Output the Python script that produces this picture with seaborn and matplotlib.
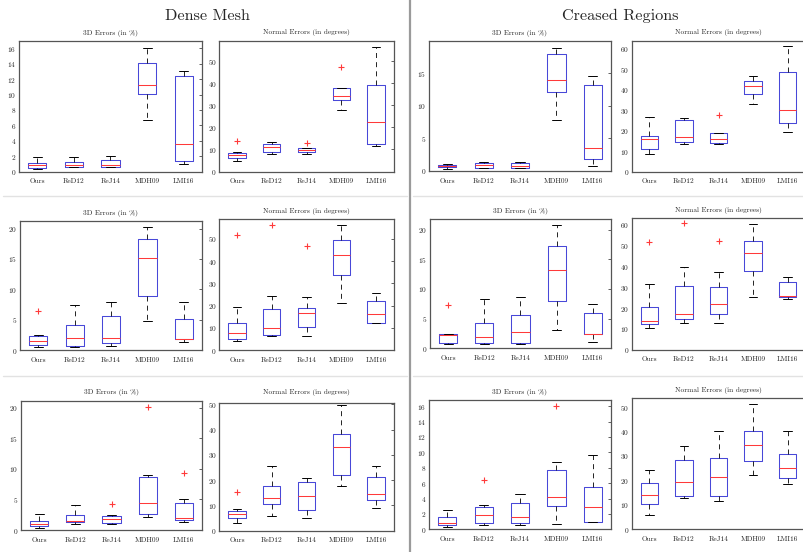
import numpy as np
import pandas as pd
import matplotlib
matplotlib.use("Agg")
import matplotlib.pyplot as plt
from matplotlib.lines import Line2D
import seaborn as sns

methods = ["Ours", "ReD12", "ReJ14", "MDH09", "LMI16"]

# each row: low whisker, q1, median, q3, high whisker  (one row per method)
dense_3d_1 = [[0.30, 0.48, 0.87, 1.13, 1.90], [0.55, 0.61, 0.87, 1.22, 1.91],
              [0.55, 0.60, 0.78, 1.48, 2.04], [6.74, 10.10, 11.30, 14.04, 16.00],
              [1.00, 1.39, 3.60, 12.43, 13.10]]
dense_3d_1_out = [[], [], [], [], []]
dense_nrm_1 = [[4.8, 6.0, 7.5, 8.3, 8.6], [8.1, 8.7, 11.1, 12.65, 13.2],
               [8.0, 9.0, 9.8, 10.5, 10.7], [27.9, 32.4, 34.2, 37.6, 37.6],
               [11.6, 12.3, 22.6, 39.0, 56.5]]
dense_nrm_1_out = [[13.7], [], [12.8], [47.4], []]
crease_3d_1 = [[0.36, 0.62, 0.82, 0.98, 1.13], [0.50, 0.51, 0.92, 1.28, 1.34],
               [0.50, 0.51, 0.77, 1.23, 1.39], [7.76, 12.07, 13.90, 17.90, 18.80],
               [0.77, 1.80, 3.50, 13.15, 14.50]]
crease_3d_1_out = [[], [], [], [], []]
crease_nrm_1 = [[8.7, 10.8, 15.9, 17.3, 26.5], [13.6, 14.4, 17.0, 25.0, 26.0],
                [13.6, 13.9, 15.9, 18.8, 18.8], [33.0, 38.1, 41.7, 44.3, 46.9],
                [19.5, 23.9, 30.2, 48.9, 61.3]]
crease_nrm_1_out = [[], [], [27.6], [], []]

dense_3d_2 = [[0.49, 0.82, 1.48, 2.35, 2.46], [0.49, 0.71, 1.97, 4.04, 7.49],
              [0.71, 1.15, 1.97, 5.57, 7.87], [4.75, 8.85, 15.08, 18.36, 20.27],
              [1.31, 1.75, 1.80, 5.08, 7.87]]
dense_3d_2_out = [[6.4], [], [], [], []]
dense_nrm_2 = [[4.05, 4.95, 7.66, 12.2, 19.4], [6.45, 6.9, 9.9, 18.5, 24.3],
               [6.45, 10.2, 16.7, 19.1, 24.0], [21.0, 33.8, 42.9, 49.4, 56.3],
               [12.2, 12.2, 16.2, 21.9, 25.8]]
dense_nrm_2_out = [[51.6], [56.3], [46.8], [], []]
crease_3d_2 = [[0.73, 0.96, 2.25, 2.37, 2.40], [0.68, 0.85, 1.86, 4.34, 8.34],
               [0.68, 0.90, 2.82, 5.69, 8.73], [3.04, 7.94, 13.24, 17.24, 20.79],
               [1.01, 2.37, 2.48, 6.03, 7.55]]
crease_3d_2_out = [[7.38], [], [], [], []]
crease_nrm_2 = [[10.3, 12.2, 13.8, 20.7, 31.3], [13.0, 14.6, 16.9, 30.5, 39.5],
                [12.7, 17.0, 21.8, 29.9, 37.2], [25.2, 37.7, 46.4, 52.0, 60.4],
                [24.4, 25.5, 26.0, 32.3, 34.8]]
crease_nrm_2_out = [[51.7], [60.7], [52.2], [], []]

dense_3d_3 = [[0.33, 0.60, 1.03, 1.52, 2.55], [0.98, 1.30, 1.52, 2.50, 4.02],
              [0.98, 1.09, 1.85, 2.34, 2.40], [2.12, 2.55, 4.35, 8.59, 9.02],
              [1.30, 1.58, 2.01, 4.46, 5.00]]
dense_3d_3_out = [[], [], [4.3], [20.1], [9.4]]
dense_nrm_3 = [[3.04, 4.89, 6.48, 7.94, 8.73], [5.82, 10.7, 12.96, 17.6, 25.4],
               [5.16, 8.07, 13.6, 19.3, 20.9], [17.7, 22.0, 33.1, 38.4, 49.9],
               [8.86, 12.04, 14.4, 21.4, 25.4]]
dense_nrm_3_out = [[15.5], [], [], [], []]
crease_3d_3 = [[0.26, 0.52, 0.78, 1.60, 2.55], [0.56, 0.82, 1.86, 2.90, 3.20],
               [0.56, 0.82, 1.60, 3.38, 4.55], [0.69, 2.99, 4.16, 7.70, 8.74],
               [0.95, 1.00, 2.86, 5.45, 9.60]]
crease_3d_3_out = [[], [6.36], [], [16.0], []]
crease_nrm_3 = [[5.87, 10.4, 13.9, 19.0, 24.2], [12.6, 13.7, 19.4, 28.3, 34.0],
                [11.6, 13.5, 21.3, 29.1, 40.4], [22.1, 28.0, 34.4, 40.2, 51.4],
                [18.7, 20.9, 24.9, 30.6, 40.2]]
crease_nrm_3_out = [[], [], [], [], []]

W, H = 804, 552
plt.rcParams["figure.dpi"] = 100
sns.set_theme(style="white")
plt.rcParams["font.family"] = ["cmr10", "DejaVu Serif"]
plt.rcParams["mathtext.fontset"] = "cm"
plt.rcParams["axes.formatter.use_mathtext"] = True

fig = plt.figure(figsize=(W / 100, H / 100), dpi=100)
fig.patch.set_facecolor("white")

blue = "#4848d8"
red = "#ff3a3a"


def to_frame(stats, outs):
    rows = []
    for m, s, o in zip(methods, stats, outs):
        lo, q1, med, q3, hi = s
        vals = [lo] + [q1] * 4 + [med] * 3 + [q3] * 4 + [hi] + list(o)
        rows += [(m, v) for v in vals]
    return pd.DataFrame(rows, columns=["method", "value"])


# (data, outliers, title, [left, right, top, bottom] px, xlim right, ylim top, yticks, title y)
t3 = "3D Errors (in %)"
tn = "Normal Errors (in degrees)"
panels = [
    (dense_3d_1, dense_3d_1_out, t3, [19, 202, 41, 171.5], 4.5, 16.96, np.arange(0, 17, 2), 33.3),
    (dense_nrm_1, dense_nrm_1_out, tn, [219.5, 393.5, 40.7, 171.5], 4.5, 59.2, np.arange(0, 51, 10), 32.7),
    (crease_3d_1, crease_3d_1_out, t3, [429, 611, 41, 171], 4.5, 19.9, np.arange(0, 16, 5), 33.3),
    (crease_nrm_1, crease_nrm_1_out, tn, [632, 812, 41, 171.5], 4.7, 63.9, np.arange(0, 61, 10), 32.7),
    (dense_3d_2, dense_3d_2_out, t3, [20, 202, 221, 350], 4.5, 21.26, np.arange(0, 21, 5), 213.3),
    (dense_nrm_2, dense_nrm_2_out, tn, [219.5, 393.5, 219, 350], 4.5, 59.0, np.arange(0, 51, 10), 211.7),
    (crease_3d_2, crease_3d_2_out, t3, [430, 611, 219, 348.3], 4.5, 21.8, np.arange(0, 21, 5), 211.7),
    (crease_nrm_2, crease_nrm_2_out, tn, [632, 812, 218, 349.7], 4.7, 63.2, np.arange(0, 61, 10), 210.7),
    (dense_3d_3, dense_3d_3_out, t3, [21, 202, 401, 530], 4.5, 21.1, np.arange(0, 21, 5), 392.7),
    (dense_nrm_3, dense_nrm_3_out, tn, [219.5, 393.5, 403, 530.7], 4.5, 50.5, np.arange(0, 51, 10), 392.7),
    (crease_3d_3, crease_3d_3_out, t3, [429, 611, 400, 529.3], 4.5, 16.8, np.arange(0, 17, 2), 392.7),
    (crease_nrm_3, crease_nrm_3_out, tn, [632, 812, 398, 529.3], 4.7, 53.7, np.arange(0, 51, 10), 390.7),
]

for stats, outs, title, (l, r, t, b), xr, ytop, yt, ty in panels:
    ax = fig.add_axes([l / W, 1 - b / H, (r - l) / W, (b - t) / H])
    df = to_frame(stats, outs)
    sns.boxplot(data=df, x="method", y="value", order=methods, ax=ax,
                width=0.5, whis=1.5, fill=False, color=blue, linewidth=0.7,
                boxprops={"color": blue, "linewidth": 0.75},
                medianprops={"color": red, "linewidth": 0.75},
                whiskerprops={"color": "black", "linewidth": 0.6, "linestyle": (0, (6, 5))},
                capprops={"color": "black", "linewidth": 0.7},
                flierprops={"marker": "+", "markeredgecolor": red,
                            "markersize": 5, "markeredgewidth": 0.8})
    ax.set_xlim(-0.5, xr)
    ax.set_ylim(0, ytop)
    ax.set_yticks(yt)
    ax.set_xlabel("")
    ax.set_ylabel("")
    ax.tick_params(axis="y", direction="in", length=2.5, width=0.5, right=True,
                   labelsize=5.3, pad=2, colors="#222222")
    ax.tick_params(axis="x", length=0, labelsize=5.3, pad=5, colors="#222222")
    for sp in ax.spines.values():
        sp.set_color("#555555")
        sp.set_linewidth(0.9)
    tx = (l + min(r, 805)) / 2 if xr == 4.5 else l + (r - l) * 2.5 / 5.2
    fig.text(tx / W, 1 - ty / H, title, ha="center", va="center", fontsize=5.3)

fig.text(207 / W, 1 - 16 / H, "Dense Mesh", ha="center", va="center", fontsize=11.7)
fig.text(620 / W, 1 - 16 / H, "Creased Regions", ha="center", va="center", fontsize=11.7)

# section dividers
fig.add_artist(Line2D([410 / W, 410 / W], [0, 1], transform=fig.transFigure,
                      color="#9a9a9a", linewidth=1.6))
for yy in [196, 376]:
    fig.add_artist(Line2D([3 / W, 407 / W], [1 - yy / H] * 2, transform=fig.transFigure,
                          color="#e2e2e2", linewidth=1.0))
    fig.add_artist(Line2D([413 / W, 1], [1 - yy / H] * 2, transform=fig.transFigure,
                          color="#e2e2e2", linewidth=1.0))

fig.savefig("out.png", dpi=100, facecolor="white")
